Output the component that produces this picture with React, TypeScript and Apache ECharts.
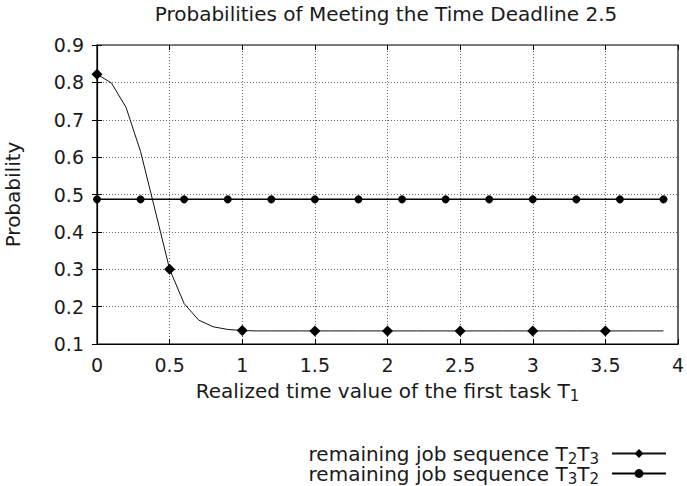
import React, { useEffect, useRef } from "react";
import * as echarts from "echarts";

const titleText = "Probabilities of Meeting the Time Deadline 2.5";
const xTicks = [0, 0.5, 1, 1.5, 2, 2.5, 3, 3.5, 4];
const yTicks = [0.1, 0.2, 0.3, 0.4, 0.5, 0.6, 0.7, 0.8, 0.9];

// remaining job sequence T2T3
const x23 = [
  0, 0.1, 0.2, 0.3, 0.4, 0.5, 0.6, 0.7, 0.8, 0.9,
  1.0, 1.1, 1.2, 1.3, 1.4, 1.5, 1.6, 1.7, 1.8, 1.9,
  2.0, 2.1, 2.2, 2.3, 2.4, 2.5, 2.6, 2.7, 2.8, 2.9,
  3.0, 3.1, 3.2, 3.3, 3.4, 3.5, 3.6, 3.7, 3.8, 3.9,
];
const y23 = [
  0.822, 0.798, 0.733, 0.615, 0.458, 0.3, 0.208, 0.164, 0.146, 0.139,
  0.136, 0.135, 0.135, 0.135, 0.135, 0.135, 0.135, 0.135, 0.135, 0.135,
  0.135, 0.135, 0.135, 0.135, 0.135, 0.135, 0.135, 0.135, 0.135, 0.135,
  0.135, 0.135, 0.135, 0.135, 0.135, 0.135, 0.135, 0.135, 0.135, 0.135,
];

// remaining job sequence T3T2
const x32 = [0, 0.3, 0.6, 0.9, 1.2, 1.5, 1.8, 2.1, 2.4, 2.7, 3.0, 3.3, 3.6, 3.9];
const y32 = [
  0.487, 0.487, 0.487, 0.487, 0.487, 0.487, 0.487,
  0.487, 0.487, 0.487, 0.487, 0.487, 0.487, 0.487,
];

const FONT = "DejaVu Sans";
const TXT = "#1a1a1a";

export default function App() {
  const ref = useRef<HTMLDivElement>(null);
  useEffect(() => {
    if (!ref.current) return;
    const chart = echarts.init(ref.current, undefined, { renderer: "svg" });
    const tickCommon = {
      show: true,
      inside: true,
      length: 5,
      lineStyle: { color: "#000", width: 1 },
    };
    const subRich = {
      a: { fontFamily: FONT, fontSize: 20, color: TXT, lineHeight: 18 },
      s: { fontFamily: FONT, fontSize: 15, color: TXT, lineHeight: 8, padding: [10, 0, 0, 0] },
      g: { width: 8, lineHeight: 18 },
    };
    const legendCommon = {
      orient: "horizontal",
      align: "right",
      right: 20,
      itemWidth: 54,
      itemHeight: 11,
      padding: 0,
      formatter: (name: string) =>
        name === "T2T3"
          ? "{a|remaining job sequence T}{s|2}{a|T}{s|3}{g|}"
          : "{a|remaining job sequence T}{s|3}{a|T}{s|2}{g|}",
      textStyle: { fontFamily: FONT, fontSize: 20, color: TXT, rich: subRich },
    };
    chart.setOption({
      animation: false,
      backgroundColor: "#fff",
      title: {
        text: titleText,
        left: 386,
        textAlign: "center",
        top: 4,
        padding: 0,
        textStyle: { fontFamily: FONT, fontSize: 20, fontWeight: "normal", color: TXT },
      },
      grid: {
        left: 97,
        right: 9,
        top: 45,
        bottom: 142,
        containLabel: false,
        outerBoundsMode: "none",
        show: true,
        borderColor: "#000",
        borderWidth: 1.2,
        backgroundColor: "transparent",
      },
      legend: [
        { ...legendCommon, top: 441, data: ["T2T3"] },
        { ...legendCommon, top: 461, data: ["T3T2"] },
      ],
      xAxis: [
        {
          type: "value",
          min: 0,
          max: 4,
          interval: 0.5,
          position: "bottom",
          axisLine: { show: true, lineStyle: { color: "#000", width: 1.2 } },
          axisTick: tickCommon,
          axisLabel: {
            fontFamily: FONT,
            fontSize: 19,
            color: TXT,
            margin: 11,
            formatter: (v: number) => (xTicks.indexOf(v) >= 0 ? String(v) : ""),
          },
          splitLine: { show: true, lineStyle: { type: [1, 2], color: "#666", width: 1 } },
          name: "{a|Realized time value of the first task T}{s|1}",
          nameLocation: "middle",
          nameGap: 33,
          nameTextStyle: { fontFamily: FONT, fontSize: 20, color: TXT, rich: subRich },
        },
        {
          type: "value",
          min: 0,
          max: 4,
          interval: 0.5,
          position: "top",
          axisLine: { show: false },
          axisTick: tickCommon,
          axisLabel: { show: false },
          splitLine: { show: false },
        },
      ],
      yAxis: [
        {
          type: "value",
          min: 0.1,
          max: 0.9,
          interval: 0.1,
          position: "left",
          axisLine: { show: true, lineStyle: { color: "#000", width: 1.2 } },
          axisTick: tickCommon,
          axisLabel: {
            fontFamily: FONT,
            fontSize: 19,
            color: TXT,
            margin: 13,
            formatter: (v: number) => {
              const r = Math.round(v * 10) / 10;
              return yTicks.indexOf(r) >= 0 ? r.toFixed(1) : "";
            },
          },
          splitLine: { show: true, lineStyle: { type: [1, 2], color: "#666", width: 1 } },
          name: "Probability",
          nameLocation: "middle",
          nameGap: 74,
          nameRotate: 90,
          nameTextStyle: { fontFamily: FONT, fontSize: 20, color: TXT },
        },
        {
          type: "value",
          min: 0.1,
          max: 0.9,
          interval: 0.1,
          position: "right",
          axisLine: { show: false },
          axisTick: tickCommon,
          axisLabel: { show: false },
          splitLine: { show: false },
        },
      ],
      series: [
        {
          name: "T2T3",
          type: "line",
          data: x23.map((x, i) => [x, y23[i]]),
          symbol: "diamond",
          symbolSize: (_v: any, p: any) => (p.dataIndex % 5 === 0 ? 11 : 0),
          showAllSymbol: true,
          lineStyle: { color: "#111", width: 1 },
          itemStyle: { color: "#000" },
          z: 3,
        },
        {
          name: "T3T2",
          type: "line",
          data: x32.map((x, i) => [x, y32[i]]),
          symbol: "circle",
          symbolSize: 8,
          showAllSymbol: true,
          lineStyle: { color: "#000", width: 1.5 },
          itemStyle: { color: "#000" },
          z: 3,
        },
      ],
    });
    return () => chart.dispose();
  }, []);
  return (
    <div
      ref={ref}
      style={{ position: "absolute", left: 0, top: 0, width: 687, height: 486 }}
    />
  );
}
